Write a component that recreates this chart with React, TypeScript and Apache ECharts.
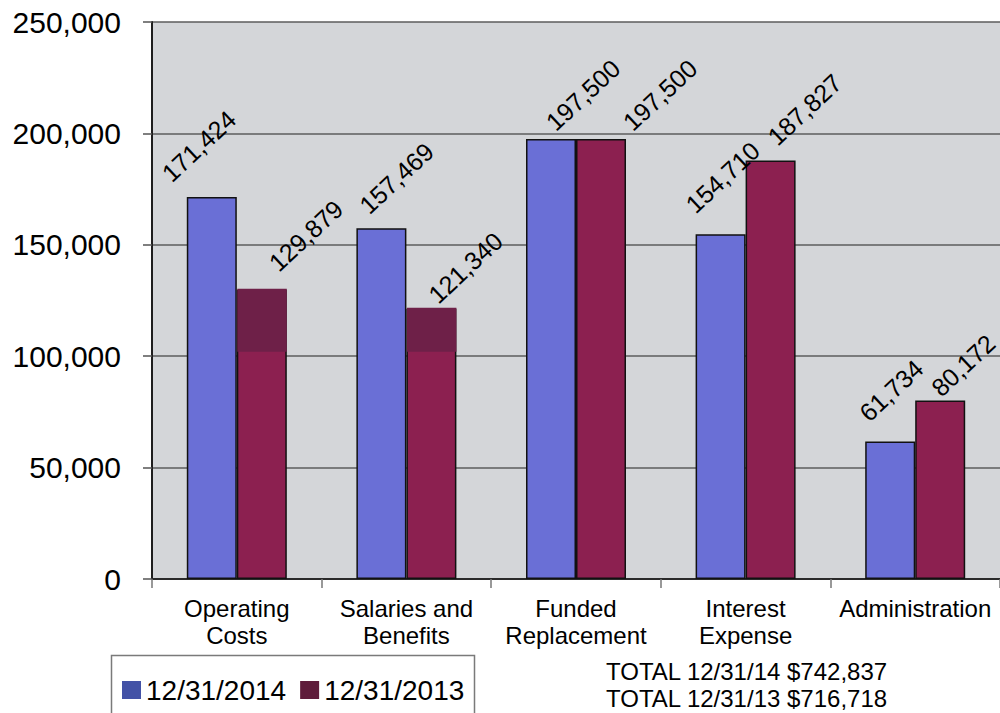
import { useEffect, useRef } from "react";
import * as echarts from "echarts";

// Expense categories and the two year-end snapshots
const categories = [
  "Operating\nCosts",
  "Salaries and\nBenefits",
  "Funded\nReplacement",
  "Interest\nExpense",
  "Administration",
];
const seriesNames = ["12/31/2014", "12/31/2013"];
const values2014 = [171424, 157469, 197500, 154710, 61734];
const values2013 = [129879, 121340, 197500, 187827, 80172];
// Lower edge of the darker over-painted band on the first two 2013 bars
const overpaintFloor2013 = [102000, 102000, null, null, null];
const yMin = 0;
const yMax = 250000;
const yStep = 50000;
const totalLabels = ["TOTAL 12/31/14", "TOTAL 12/31/13"];

// Layout: per-bar screen nudges for the slanted value labels [dx, dy]
const nudge2014 = [[-13, -51], [15, -50], [32, -44], [2, -57], [1, -51]];
const nudge2013 = [[44, -54], [34, -41], [59, -44], [34, -51], [23, -35]];

const FONT = "'Liberation Sans', Arial, sans-serif";
const BLUE = "#6a6fd6";
const CRIMSON = "#8c2050";
const OVERPAINT = "#6e2048";
const BAR_W = 50;
const LABEL_ROT = 43;

const fmt = (v: number) => v.toLocaleString("en-US");
const sum = (a: number[]) => a.reduce((s, v) => s + v, 0);

// Label offsets are applied in the label's rotated frame, so turn the
// screen-space nudge back by the rotation angle.
function toLabelFrame([dx, dy]: number[]) {
  const t = (LABEL_ROT * Math.PI) / 180;
  const c = Math.cos(t);
  const s = Math.sin(t);
  return [dx * c - dy * s, dx * s + dy * c];
}

function valueData(values: number[], nudges: number[][]) {
  return values.map((v, i) => ({
    value: v,
    label: { offset: toLabelFrame(nudges[i]) },
  }));
}

export default function App() {
  const ref = useRef<HTMLDivElement>(null);

  useEffect(() => {
    if (!ref.current) return;
    const chart = echarts.init(ref.current, null, { renderer: "svg" });

    const barLabel = {
      show: true,
      position: "top",
      distance: 0,
      rotate: LABEL_ROT,
      align: "center",
      verticalAlign: "middle",
      fontFamily: FONT,
      fontSize: 25,
      color: "#000",
      formatter: (p: any) => fmt(p.value),
    };

    chart.setOption({
      animation: false,
      backgroundColor: "#ffffff",
      grid: {
        left: 152,
        right: -2,
        top: 22,
        bottom: 134,
        show: true,
        backgroundColor: "#d4d6d9",
        borderWidth: 0,
      },
      legend: {
        left: 117,
        top: 671,
        itemWidth: 19,
        itemHeight: 18,
        itemGap: 14,
        icon: "rect",
        textStyle: { fontFamily: FONT, fontSize: 28, color: "#000", padding: [0, 0, 0, 0] },
        data: [
          { name: seriesNames[0], itemStyle: { color: "#4352a6", borderWidth: 0 } },
          { name: seriesNames[1], itemStyle: { color: "#5f1c3b", borderWidth: 0 } },
        ],
      },
      xAxis: {
        type: "category",
        data: categories,
        axisLine: { show: true, lineStyle: { color: "#2b2b2b", width: 2 } },
        axisTick: { show: true, length: 9, lineStyle: { color: "#777", width: 1.5 } },
        axisLabel: {
          fontFamily: FONT,
          fontSize: 24,
          lineHeight: 27,
          color: "#000",
          margin: 16,
          interval: 0,
        },
        splitLine: { show: false },
      },
      yAxis: {
        type: "value",
        min: yMin,
        max: yMax,
        interval: yStep,
        axisLine: { show: true, lineStyle: { color: "#1e1e1e", width: 2 } },
        axisTick: { show: true, length: 9, lineStyle: { color: "#555", width: 1.5 } },
        axisLabel: {
          fontFamily: FONT,
          fontSize: 30,
          color: "#000",
          margin: 31,
          formatter: (v: number) => fmt(v),
        },
        splitLine: { show: true, lineStyle: { color: "#5c5c5c", width: 1.5 } },
      },
      series: [
        {
          name: seriesNames[0],
          type: "bar",
          barWidth: BAR_W,
          barGap: "0%",
          data: valueData(values2014, nudge2014),
          itemStyle: { color: BLUE, borderColor: "#111", borderWidth: 1.5 },
          label: barLabel,
          z: 2,
        },
        {
          name: seriesNames[1],
          type: "bar",
          barWidth: BAR_W,
          barGap: "0%",
          data: valueData(values2013, nudge2013),
          itemStyle: { color: CRIMSON, borderColor: "#111", borderWidth: 1.5 },
          label: barLabel,
          z: 2,
        },
        {
          name: "overpaint",
          type: "custom",
          silent: true,
          z: 3,
          data: values2013.map((v, i) => [i, v, overpaintFloor2013[i]]),
          renderItem: (params: any, api: any) => {
            const floor = api.value(2);
            if (floor === null || floor === undefined || floor === "" || isNaN(floor)) return null;
            const idx = api.value(0);
            const top = api.coord([idx, api.value(1)]);
            const bottom = api.coord([idx, floor]);
            return {
              type: "rect",
              shape: {
                x: top[0] + 0.5,
                y: top[1] - 1,
                width: BAR_W - 0.5,
                height: bottom[1] - top[1] + 1,
              },
              style: { fill: OVERPAINT },
            };
          },
        },
      ],
      graphic: [
        {
          type: "rect",
          left: 109,
          top: 653,
          shape: { width: 363, height: 80 },
          style: { fill: "none", stroke: "#7a7a7a", lineWidth: 1.5 },
          z: 0,
        },
        {
          type: "text",
          left: 606,
          top: 658,
          style: {
            text:
              `${totalLabels[0]} $${fmt(sum(values2014))}\n` +
              `${totalLabels[1]} $${fmt(sum(values2013))}`,
            font: `24px ${FONT}`,
            lineHeight: 27,
            fill: "#000",
          },
        },
      ],
    });

    return () => chart.dispose();
  }, []);

  return (
    <div
      ref={ref}
      style={{ position: "absolute", left: 0, top: 0, width: 1000, height: 713, background: "#fff" }}
    />
  );
}
